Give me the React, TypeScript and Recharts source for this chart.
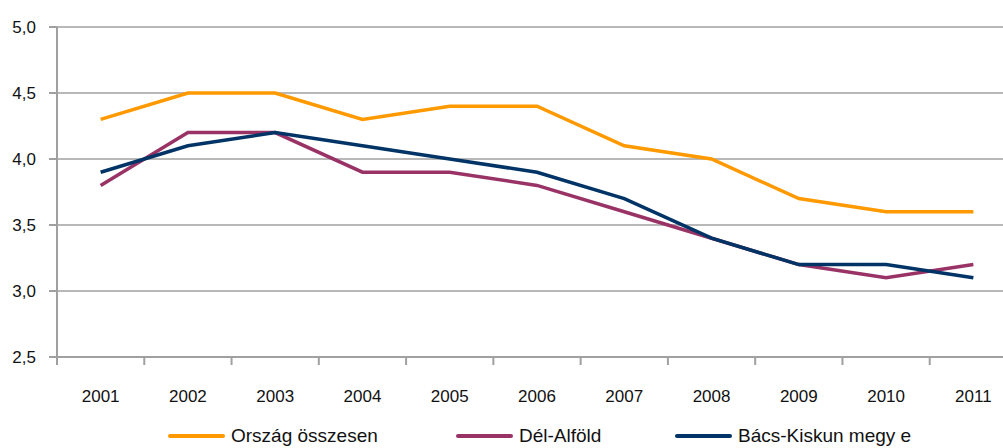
import React from 'react';
import { LineChart, Line, XAxis, YAxis, CartesianGrid, Legend } from 'recharts';

const years = ['2001', '2002', '2003', '2004', '2005', '2006', '2007', '2008', '2009', '2010', '2011'];
const orszag = [4.3, 4.5, 4.5, 4.3, 4.4, 4.4, 4.1, 4.0, 3.7, 3.6, 3.6];
const delAlfold = [3.8, 4.2, 4.2, 3.9, 3.9, 3.8, 3.6, 3.4, 3.2, 3.1, 3.2];
const bacsKiskun = [3.9, 4.1, 4.2, 4.1, 4.0, 3.9, 3.7, 3.4, 3.2, 3.2, 3.1];
const yTicks = [2.5, 3.0, 3.5, 4.0, 4.5, 5.0];

const seriesNames = ['Ország összesen', 'Dél-Alföld', 'Bács-Kiskun megy e'];
const seriesColors = ['#FF9900', '#993366', '#003366'];
const seriesKeys = ['orszag', 'delAlfold', 'bacsKiskun'];

const data = years.map((y, i) => ({
  year: y,
  orszag: orszag[i],
  delAlfold: delAlfold[i],
  bacsKiskun: bacsKiskun[i],
}));

const CHART_W = 1017;
const CHART_H = 448;
const X_H = 30;
const M = { top: 27, right: 0, bottom: 91 - X_H, left: 0 };
const Y_W = 57;
const BAND = (CHART_W - Y_W - M.right) / years.length;
const FONT = '"Liberation Sans", Arial, sans-serif';

const XTick = (props: any) => {
  const { x, y, payload } = props;
  return (
    <g>
      <line x1={x - BAND / 2} x2={x - BAND / 2} y1={y} y2={y + 8} stroke="#a0a0a0" strokeWidth={2} />
      <text x={x} y={y + 45} textAnchor="middle" fontSize={17} fontFamily={FONT} fill="#111">
        {payload.value}
      </text>
    </g>
  );
};

const legendLefts = [168, 456, 675];

const renderLegend = () => (
  <div style={{ position: 'relative', width: CHART_W, height: 24, fontFamily: FONT }}>
    {seriesNames.map((n, i) => (
      <div key={n} style={{ position: 'absolute', left: legendLefts[i], top: 0, display: 'flex', alignItems: 'center', whiteSpace: 'nowrap' }}>
        <span style={{ display: 'inline-block', width: 57, height: 4, borderRadius: 2, background: seriesColors[i] }} />
        <span style={{ marginLeft: 6, fontSize: 19, color: '#111', lineHeight: '24px' }}>{n}</span>
      </div>
    ))}
  </div>
);

export default function App() {
  return (
    <div style={{ position: 'absolute', left: 0, top: 0, width: 1003, height: 448, overflow: 'hidden', background: '#fff' }}>
      <LineChart width={CHART_W} height={CHART_H} data={data} margin={M}>
        <CartesianGrid vertical={false} stroke="#a0a0a0" strokeWidth={1.5} />
        <XAxis
          dataKey="year"
          scale="band"
          height={X_H}
          tickLine={false}
          tickSize={0}
          tickMargin={0}
          axisLine={{ stroke: '#a0a0a0', strokeWidth: 2 }}
          tick={<XTick />}
          interval={0}
        />
        <YAxis
          width={Y_W}
          domain={[2.5, 5]}
          ticks={yTicks}
          tickSize={8}
          tickMargin={13}
          tickLine={{ stroke: '#a0a0a0', strokeWidth: 2 }}
          axisLine={{ stroke: '#a0a0a0', strokeWidth: 2 }}
          tick={{ fontSize: 17, fontFamily: FONT, fill: '#111' }}
          tickFormatter={(v: number) => v.toFixed(1).replace('.', ',')}
        />
        <Legend
          layout="horizontal"
          verticalAlign="middle"
          align="center"
          content={renderLegend}
          wrapperStyle={{ top: 424, left: 0, width: CHART_W, bottom: 'auto' }}
        />
        {seriesKeys.map((k, i) => (
          <Line
            key={k}
            type="linear"
            dataKey={k}
            name={seriesNames[i]}
            stroke={seriesColors[i]}
            strokeWidth={3.5}
            dot={false}
            activeDot={false}
            isAnimationActive={false}
          />
        ))}
      </LineChart>
    </div>
  );
}
